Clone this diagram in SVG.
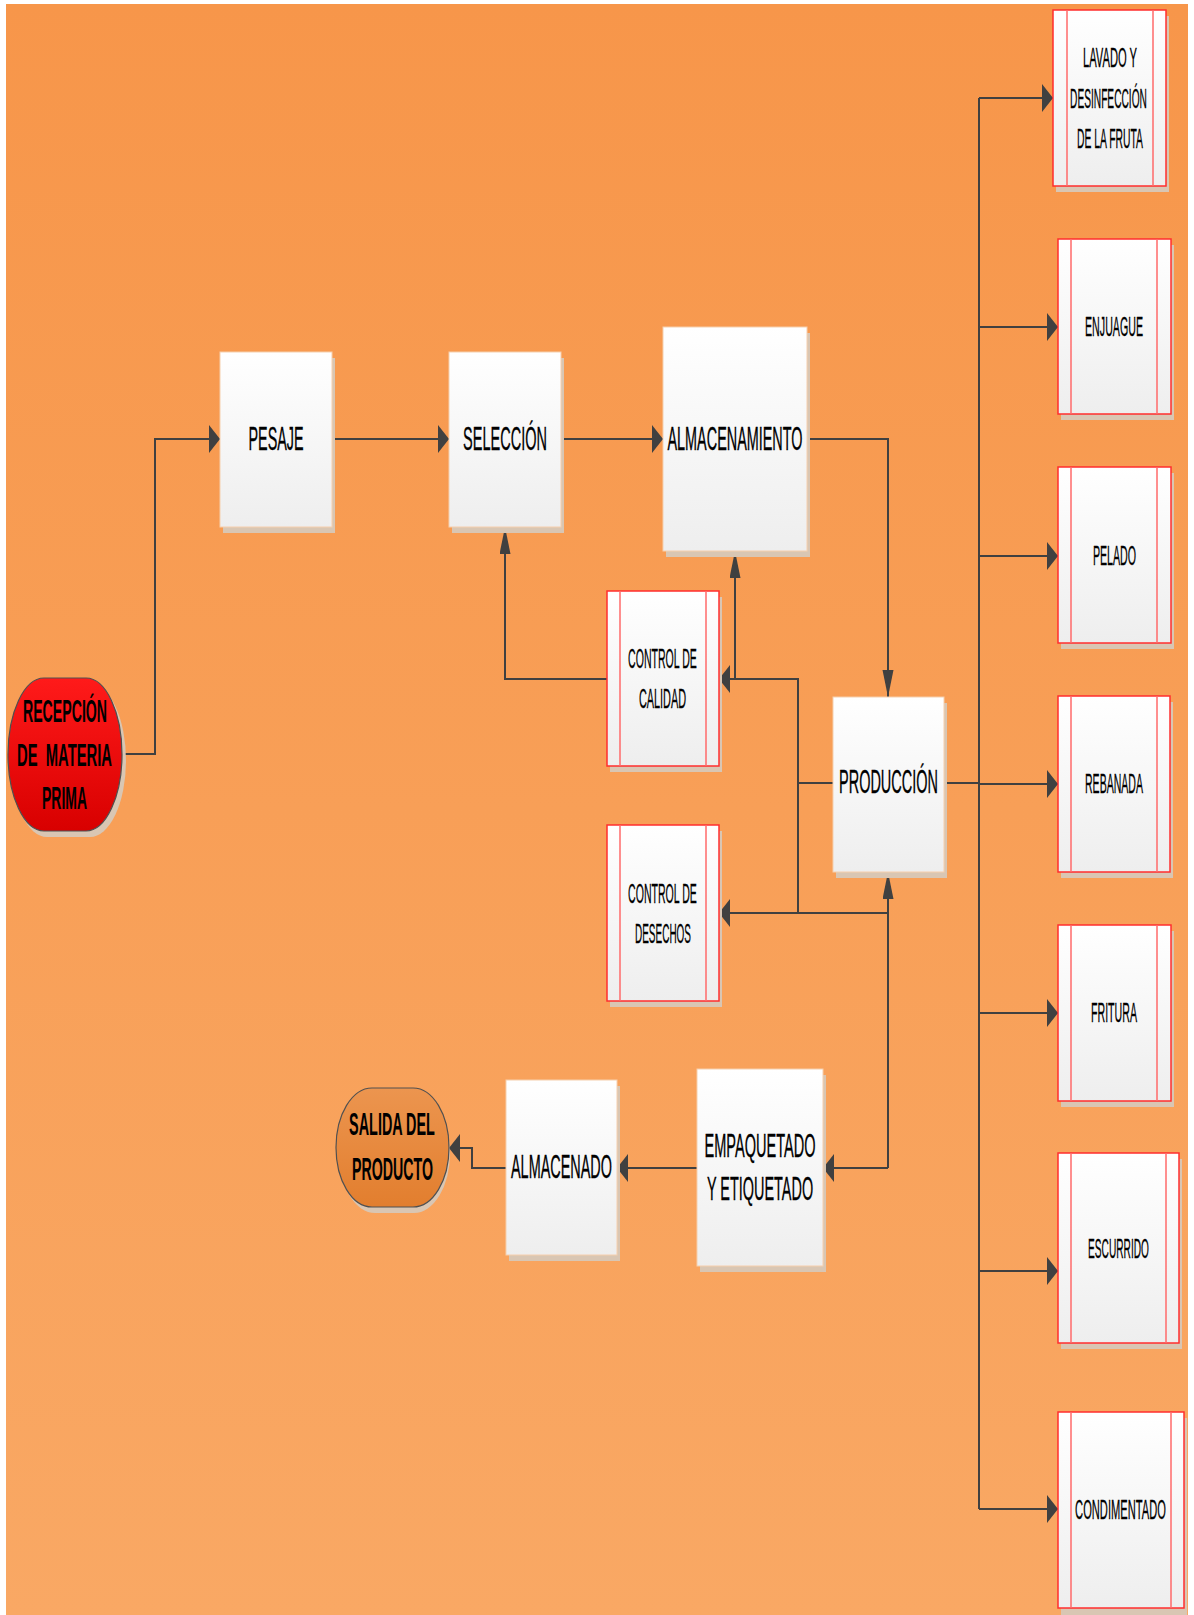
<svg xmlns="http://www.w3.org/2000/svg" width="1194" height="1615" viewBox="0 0 1194 1615">
<defs>
<linearGradient id="bg" x1="0" y1="0" x2="0" y2="1">
<stop offset="0" stop-color="#F7964A"/>
<stop offset="1" stop-color="#F9A864"/>
</linearGradient>
<linearGradient id="box" x1="0" y1="0" x2="0" y2="1">
<stop offset="0" stop-color="#FFFFFF"/>
<stop offset="1" stop-color="#EEEEEE"/>
</linearGradient>
<linearGradient id="red" x1="0" y1="0" x2="0" y2="1">
<stop offset="0" stop-color="#FF1A1A"/>
<stop offset="1" stop-color="#D80000"/>
</linearGradient>
<linearGradient id="org" x1="0" y1="0" x2="0" y2="1">
<stop offset="0" stop-color="#EC954F"/>
<stop offset="1" stop-color="#E27E2E"/>
</linearGradient>
<marker id="ah" markerUnits="userSpaceOnUse" markerWidth="12" markerHeight="30" refX="11" refY="14" orient="auto">
<path d="M0,0 L11,14 L0,28 Z" fill="#404040"/>
</marker>
<marker id="av" markerUnits="userSpaceOnUse" markerWidth="28" markerHeight="12" refX="27" refY="5.5" orient="auto">
<path d="M0,0 L27,5.5 L0,11 Z" fill="#404040"/>
</marker>
</defs>
<style>
.shadow{fill:#D9C6B3}
.proc{fill:url(#box);stroke:#F6CFAE;stroke-width:1}
.sub{fill:url(#box);stroke:#FF2E2E;stroke-width:1.5}
.subl{stroke:#FF6A6A;stroke-width:1.5}
.term{stroke:#505050;stroke-width:1.2}
.t{font-family:"Liberation Sans",Arial,sans-serif;font-size:34px;fill:#000;stroke:#000;stroke-width:0.35;text-anchor:middle}
.ts{font-family:"Liberation Sans",Arial,sans-serif;font-size:27px;fill:#000;stroke:#000;stroke-width:0.3;text-anchor:middle}
.tb{font-family:"Liberation Sans",Arial,sans-serif;font-size:32px;font-weight:bold;fill:#000;text-anchor:middle}
.c{fill:none;stroke:#404040;stroke-width:2}
</style>
<rect x="6" y="4" width="1182" height="1611" fill="url(#bg)"/>

<g id="connectors">
<polyline class="c" points="121,754 155,754 155,439 220,439" marker-end="url(#ah)"/>
<line class="c" x1="332" y1="439" x2="449" y2="439" marker-end="url(#ah)"/>
<line class="c" x1="561" y1="439" x2="663" y2="439" marker-end="url(#ah)"/>
<polyline class="c" points="807,439 888,439 888,697" marker-end="url(#av)"/>
<polyline class="c" points="607,679 505,679 505,527" marker-end="url(#av)"/>
<polyline class="c" points="833,783 798,783 798,679 719,679" marker-end="url(#ah)"/>
<polyline class="c" points="735,679 735,551" marker-end="url(#av)"/>
<polyline class="c" points="798,783 798,913 888,913"/>
<line class="c" x1="888" y1="913" x2="719" y2="913" marker-end="url(#ah)"/>
<line class="c" x1="888" y1="1168" x2="888" y2="872" marker-end="url(#av)"/>
<line class="c" x1="888" y1="1168" x2="823" y2="1168" marker-end="url(#ah)"/>
<line class="c" x1="697" y1="1168" x2="617" y2="1168" marker-end="url(#ah)"/>
<polyline class="c" points="506,1168 472,1168 472,1148 449,1148" marker-end="url(#ah)"/>
<line class="c" x1="944" y1="783" x2="979" y2="783"/>
<line class="c" x1="979" y1="98" x2="979" y2="1509"/>
<line class="c" x1="979" y1="98" x2="1053" y2="98" marker-end="url(#ah)"/>
<line class="c" x1="979" y1="327" x2="1058" y2="327" marker-end="url(#ah)"/>
<line class="c" x1="979" y1="556" x2="1058" y2="556" marker-end="url(#ah)"/>
<line class="c" x1="979" y1="784" x2="1058" y2="784" marker-end="url(#ah)"/>
<line class="c" x1="979" y1="1013" x2="1058" y2="1013" marker-end="url(#ah)"/>
<line class="c" x1="979" y1="1271" x2="1058" y2="1271" marker-end="url(#ah)"/>
<line class="c" x1="979" y1="1509" x2="1058" y2="1509" marker-end="url(#ah)"/>
</g>

<g id="recepcion">
<path class="shadow" d="M47,684 H90 A36 76.5 0 0 1 90 837 H47 A36 76.5 0 0 1 47 684 Z"/>
<path class="term" fill="url(#red)" d="M44,678 H86 A36 76.5 0 0 1 86 831 H44 A36 76.5 0 0 1 44 678 Z"/>
<text class="tb" transform="translate(65,722) scale(0.44,1)" x="0" y="0" textLength="191" lengthAdjust="spacingAndGlyphs">RECEPCIÓN</text>
<text class="tb" transform="translate(64.5,766) scale(0.44,1)" x="0" y="0" textLength="216" lengthAdjust="spacingAndGlyphs" style="white-space:pre">DE  MATERIA</text>
<text class="tb" transform="translate(64.5,809) scale(0.44,1)" x="0" y="0" textLength="102" lengthAdjust="spacingAndGlyphs">PRIMA</text>
</g>

<g id="pesaje">
<rect class="shadow" x="223" y="358" width="112" height="175"/>
<rect class="proc" x="220" y="352" width="112" height="175"/>
<text class="t" transform="translate(276,450) scale(0.43,1)" x="0" y="0" textLength="128" lengthAdjust="spacingAndGlyphs">PESAJE</text>
</g>

<g id="seleccion">
<rect class="shadow" x="452" y="358" width="112" height="175"/>
<rect class="proc" x="449" y="352" width="112" height="175"/>
<text class="t" transform="translate(505,450) scale(0.43,1)" x="0" y="0" textLength="195" lengthAdjust="spacingAndGlyphs">SELECCIÓN</text>
</g>

<g id="almacenamiento">
<rect class="shadow" x="666" y="333" width="144" height="224"/>
<rect class="proc" x="663" y="327" width="144" height="224"/>
<text class="t" transform="translate(735,450) scale(0.43,1)" x="0" y="0" textLength="314" lengthAdjust="spacingAndGlyphs">ALMACENAMIENTO</text>
</g>

<g id="control-calidad">
<rect class="shadow" x="610" y="597" width="112" height="175"/>
<rect class="sub" x="607" y="591" width="112" height="175"/>
<line class="subl" x1="620" y1="591" x2="620" y2="766"/>
<line class="subl" x1="706" y1="591" x2="706" y2="766"/>
<text class="ts" transform="translate(662.5,668) scale(0.4,1)" x="0" y="0" textLength="172" lengthAdjust="spacingAndGlyphs">CONTROL DE</text>
<text class="ts" transform="translate(662.5,708) scale(0.4,1)" x="0" y="0" textLength="118" lengthAdjust="spacingAndGlyphs">CALIDAD</text>
</g>

<g id="control-desechos">
<rect class="shadow" x="610" y="831" width="112" height="176"/>
<rect class="sub" x="607" y="825" width="112" height="176"/>
<line class="subl" x1="620" y1="825" x2="620" y2="1001"/>
<line class="subl" x1="706" y1="825" x2="706" y2="1001"/>
<text class="ts" transform="translate(662.5,903) scale(0.4,1)" x="0" y="0" textLength="172" lengthAdjust="spacingAndGlyphs">CONTROL DE</text>
<text class="ts" transform="translate(663,943) scale(0.4,1)" x="0" y="0" textLength="140" lengthAdjust="spacingAndGlyphs">DESECHOS</text>
</g>

<g id="produccion">
<rect class="shadow" x="836" y="703" width="111" height="175"/>
<rect class="proc" x="833" y="697" width="111" height="175"/>
<text class="t" transform="translate(888.5,793) scale(0.43,1)" x="0" y="0" textLength="230" lengthAdjust="spacingAndGlyphs">PRODUCCIÓN</text>
</g>

<g id="empaquetado">
<rect class="shadow" x="700" y="1075" width="126" height="197"/>
<rect class="proc" x="697" y="1069" width="126" height="197"/>
<text class="t" transform="translate(760,1157) scale(0.43,1)" x="0" y="0" textLength="258" lengthAdjust="spacingAndGlyphs">EMPAQUETADO</text>
<text class="t" transform="translate(760,1200) scale(0.43,1)" x="0" y="0" textLength="247" lengthAdjust="spacingAndGlyphs">Y ETIQUETADO</text>
</g>

<g id="almacenado">
<rect class="shadow" x="509" y="1086" width="111" height="175"/>
<rect class="proc" x="506" y="1080" width="111" height="175"/>
<text class="t" transform="translate(561.5,1178) scale(0.43,1)" x="0" y="0" textLength="235" lengthAdjust="spacingAndGlyphs">ALMACENADO</text>
</g>

<g id="salida">
<path class="shadow" d="M375,1094 H414 A36 59.5 0 0 1 414 1213 H375 A36 59.5 0 0 1 375 1094 Z"/>
<path class="term" fill="url(#org)" d="M372,1088 H413 A36 59.5 0 0 1 413 1207 H372 A36 59.5 0 0 1 372 1088 Z"/>
<text class="tb" transform="translate(392,1135) scale(0.44,1)" x="0" y="0" textLength="195" lengthAdjust="spacingAndGlyphs">SALIDA DEL</text>
<text class="tb" transform="translate(392.5,1180) scale(0.44,1)" x="0" y="0" textLength="184" lengthAdjust="spacingAndGlyphs">PRODUCTO</text>
</g>

<g id="lavado">
<rect class="shadow" x="1056" y="16" width="113" height="176"/>
<rect class="sub" x="1053" y="10" width="113" height="176"/>
<line class="subl" x1="1067" y1="10" x2="1067" y2="186"/>
<line class="subl" x1="1153" y1="10" x2="1153" y2="186"/>
<text class="ts" transform="translate(1110,67) scale(0.4,1)" x="0" y="0" textLength="135" lengthAdjust="spacingAndGlyphs">LAVADO Y</text>
<text class="ts" transform="translate(1108.5,108) scale(0.4,1)" x="0" y="0" textLength="192" lengthAdjust="spacingAndGlyphs">DESINFECCIÓN</text>
<text class="ts" transform="translate(1110,148) scale(0.4,1)" x="0" y="0" textLength="165" lengthAdjust="spacingAndGlyphs">DE LA FRUTA</text>
</g>

<g id="enjuague">
<rect class="shadow" x="1061" y="245" width="113" height="175"/>
<rect class="sub" x="1058" y="239" width="113" height="175"/>
<line class="subl" x1="1071" y1="239" x2="1071" y2="414"/>
<line class="subl" x1="1157" y1="239" x2="1157" y2="414"/>
<text class="ts" transform="translate(1114,336) scale(0.4,1)" x="0" y="0" textLength="145" lengthAdjust="spacingAndGlyphs">ENJUAGUE</text>
</g>

<g id="pelado">
<rect class="shadow" x="1061" y="473" width="113" height="176"/>
<rect class="sub" x="1058" y="467" width="113" height="176"/>
<line class="subl" x1="1071" y1="467" x2="1071" y2="643"/>
<line class="subl" x1="1157" y1="467" x2="1157" y2="643"/>
<text class="ts" transform="translate(1114.5,565) scale(0.4,1)" x="0" y="0" textLength="108" lengthAdjust="spacingAndGlyphs">PELADO</text>
</g>

<g id="rebanada">
<rect class="shadow" x="1061" y="702" width="112" height="176"/>
<rect class="sub" x="1058" y="696" width="112" height="176"/>
<line class="subl" x1="1071" y1="696" x2="1071" y2="872"/>
<line class="subl" x1="1157" y1="696" x2="1157" y2="872"/>
<text class="ts" transform="translate(1114,793) scale(0.4,1)" x="0" y="0" textLength="145" lengthAdjust="spacingAndGlyphs">REBANADA</text>
</g>

<g id="fritura">
<rect class="shadow" x="1061" y="931" width="113" height="176"/>
<rect class="sub" x="1058" y="925" width="113" height="176"/>
<line class="subl" x1="1071" y1="925" x2="1071" y2="1101"/>
<line class="subl" x1="1157" y1="925" x2="1157" y2="1101"/>
<text class="ts" transform="translate(1114,1022) scale(0.4,1)" x="0" y="0" textLength="115" lengthAdjust="spacingAndGlyphs">FRITURA</text>
</g>

<g id="escurrido">
<rect class="shadow" x="1061" y="1159" width="121" height="190"/>
<rect class="sub" x="1058" y="1153" width="121" height="190"/>
<line class="subl" x1="1071" y1="1153" x2="1071" y2="1343"/>
<line class="subl" x1="1166" y1="1153" x2="1166" y2="1343"/>
<text class="ts" transform="translate(1118.5,1258) scale(0.4,1)" x="0" y="0" textLength="152" lengthAdjust="spacingAndGlyphs">ESCURRIDO</text>
</g>

<g id="condimentado">
<rect class="shadow" x="1061" y="1418" width="126" height="197"/>
<rect class="sub" x="1058" y="1412" width="126" height="196"/>
<line class="subl" x1="1071" y1="1412" x2="1071" y2="1608"/>
<line class="subl" x1="1171" y1="1412" x2="1171" y2="1608"/>
<text class="ts" transform="translate(1120.5,1519) scale(0.4,1)" x="0" y="0" textLength="227" lengthAdjust="spacingAndGlyphs">CONDIMENTADO</text>
</g>
</svg>
